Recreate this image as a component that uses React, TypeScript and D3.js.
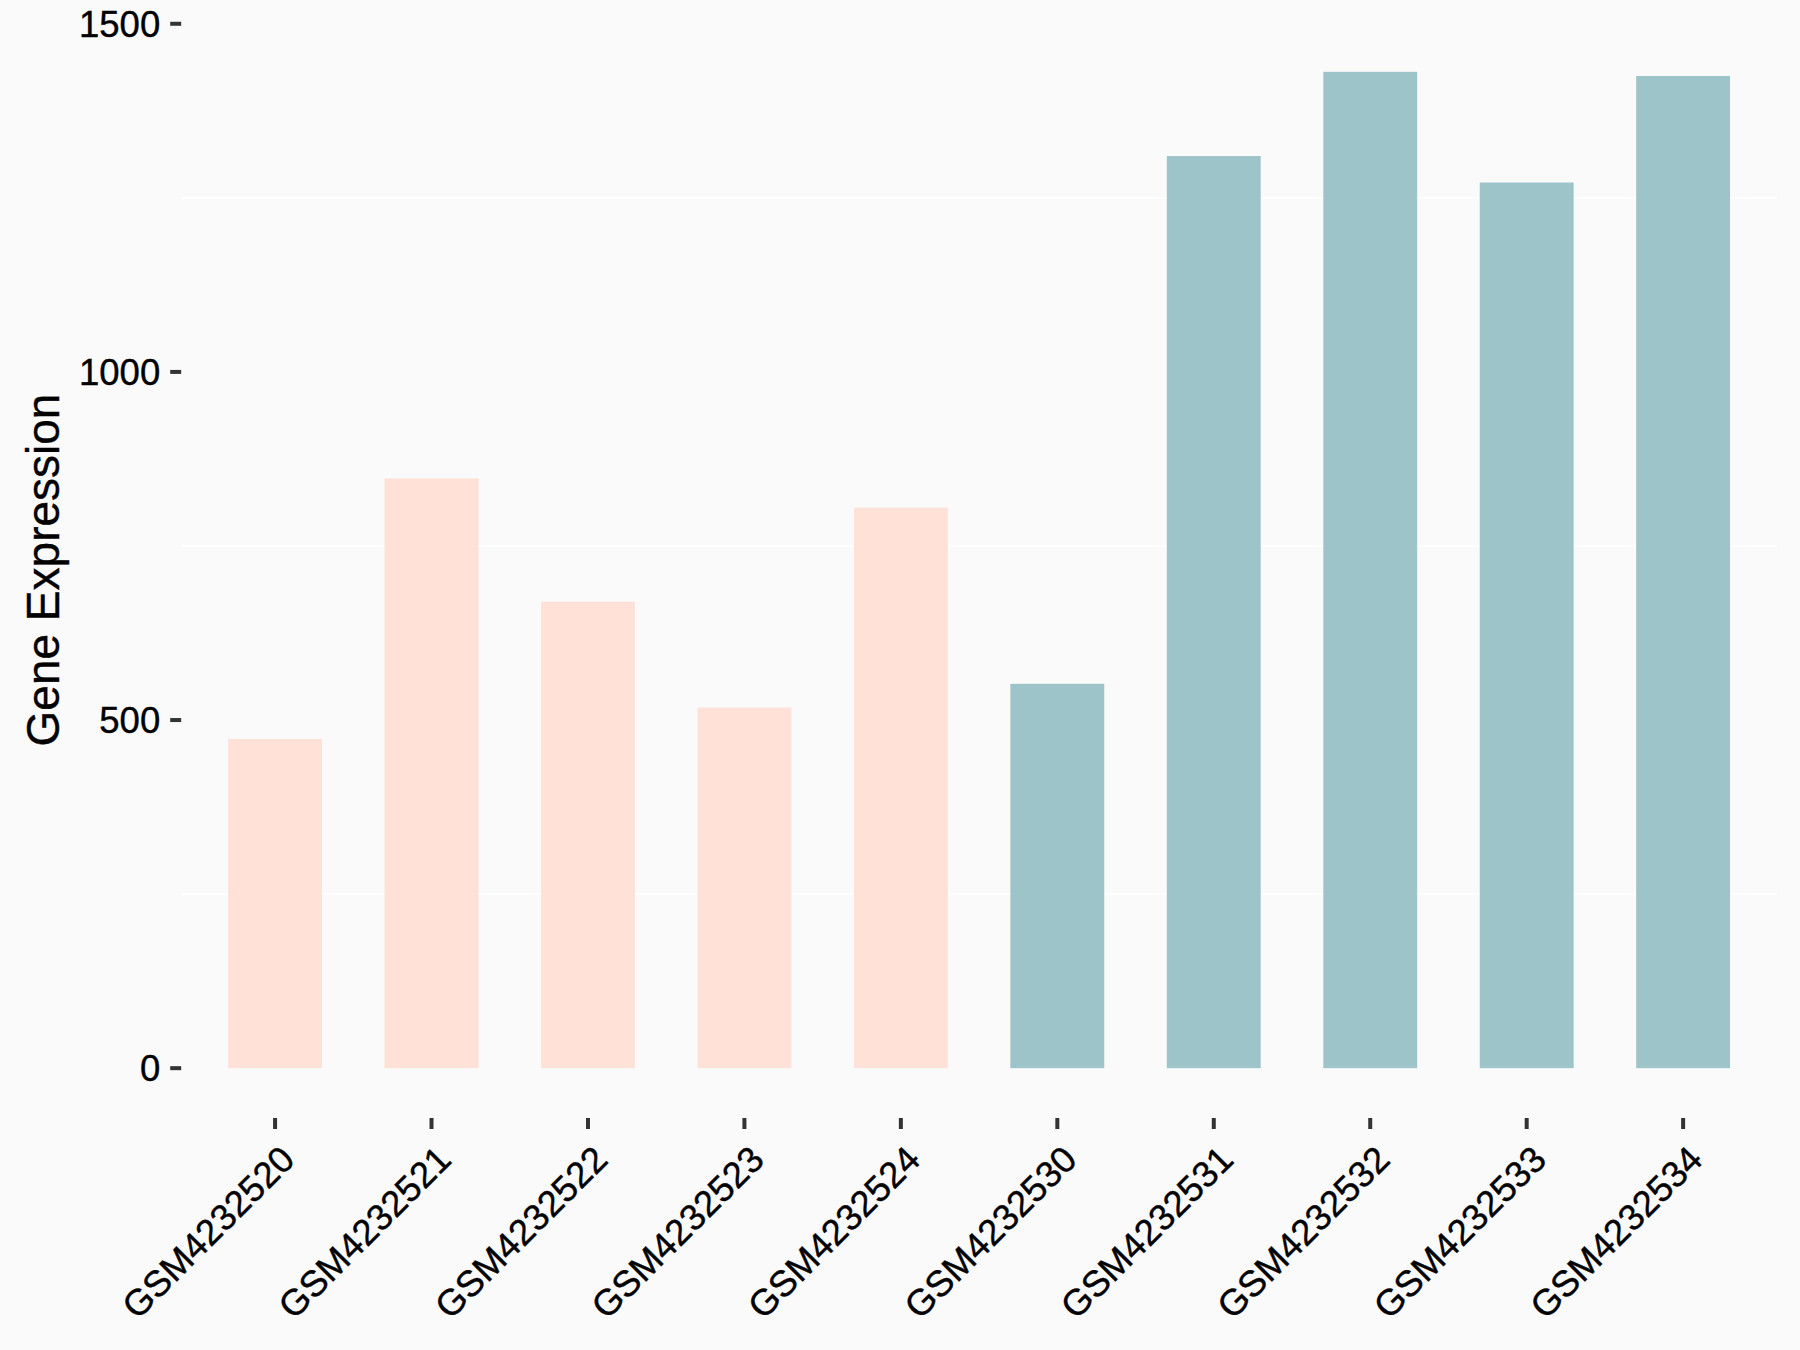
import React from "react";
import * as d3 from "d3";

const samples = [
  "GSM4232520", "GSM4232521", "GSM4232522", "GSM4232523", "GSM4232524",
  "GSM4232530", "GSM4232531", "GSM4232532", "GSM4232533", "GSM4232534",
];
const values = [473, 847, 670, 518, 805, 552, 1310, 1431, 1272, 1425];
const groups = ["A", "A", "A", "A", "A", "B", "B", "B", "B", "B"];
const yTicks = [0, 500, 1000, 1500];
const minorTicks = [250, 750, 1250];
const groupColors: Record<string, string> = { A: "#FFE1D7", B: "#9DC4C8" };

const W = 1800;
const H = 1350;
const panel = { left: 181.2, right: 1777, top: 22, bottom: 1118 };
const FONT = "Arial, 'Liberation Sans', Helvetica, sans-serif";

export default function App() {
  const maxV = d3.max(values) as number;
  const pad = maxV * 0.05;
  const x = d3
    .scaleBand<string>()
    .domain(samples)
    .range([panel.left, panel.right])
    .paddingInner(0.4)
    .paddingOuter(0.3);
  const y = d3
    .scaleLinear()
    .domain([-pad, maxV + pad])
    .range([panel.bottom, panel.top]);

  return (
    <svg
      width={W}
      height={H}
      style={{ position: "absolute", left: 0, top: 0, display: "block" }}
      fontFamily={FONT}
    >
      <rect x={0} y={0} width={W} height={H} fill="#FAFAFA" />
      {minorTicks.map((t) => (
        <line
          key={"g" + t}
          x1={panel.left}
          x2={panel.right}
          y1={y(t)}
          y2={y(t)}
          stroke="#FFFFFF"
          strokeWidth={2}
        />
      ))}
      {samples.map((s, i) => (
        <rect
          key={s}
          x={x(s)}
          y={y(values[i])}
          width={x.bandwidth()}
          height={y(0) - y(values[i])}
          fill={groupColors[groups[i]]}
        />
      ))}
      {yTicks.map((t) => (
        <g key={"y" + t}>
          <line
            x1={panel.left - 11}
            x2={panel.left}
            y1={y(t)}
            y2={y(t)}
            stroke="#333333"
            strokeWidth={4}
          />
          <text
            x={panel.left - 21}
            y={y(t)}
            dy="0.36em"
            textAnchor="end"
            fontSize={36.5}
            fill="#000"
            stroke="#000"
            strokeWidth={0.4}
          >
            {t}
          </text>
        </g>
      ))}
      {samples.map((s) => {
        const cx = (x(s) as number) + x.bandwidth() / 2;
        return (
          <g key={"x" + s}>
            <line
              x1={cx}
              x2={cx}
              y1={panel.bottom}
              y2={panel.bottom + 11}
              stroke="#333333"
              strokeWidth={4}
            />
            <text
              transform={`translate(${cx + 3},${1143}) rotate(-45)`}
              dy="0.72em"
              textAnchor="end"
              fontSize={36.5}
              fill="#000"
              stroke="#000"
              strokeWidth={0.4}
            >
              {s}
            </text>
          </g>
        );
      })}
      <text
        transform={`translate(59,${(panel.top + panel.bottom) / 2}) rotate(-90)`}
        textAnchor="middle"
        fontSize={46}
        fill="#000"
        stroke="#000"
        strokeWidth={0.4}
      >
        Gene Expression
      </text>
    </svg>
  );
}
